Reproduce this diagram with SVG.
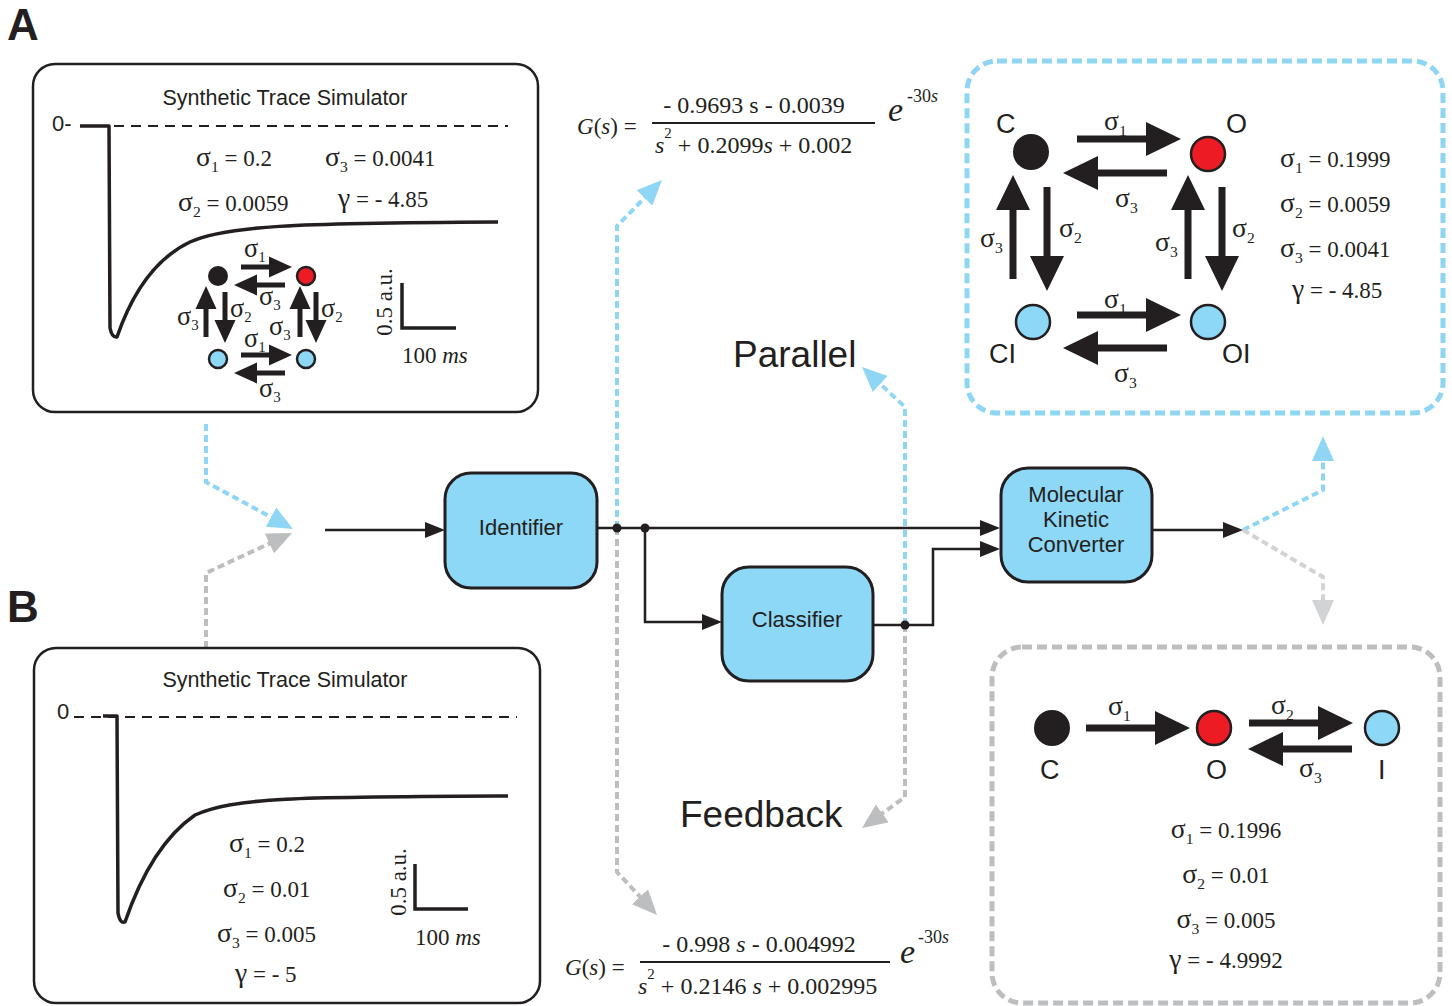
<svg xmlns="http://www.w3.org/2000/svg" width="1452" height="1006" viewBox="0 0 1452 1006">
<style>
.sans{font-family:"Liberation Sans",Arial,sans-serif;fill:#231f20}
.serif{font-family:"Liberation Serif","Times New Roman",serif;fill:#231f20}
.box{fill:#fff;stroke:#231f20;stroke-width:2.5}
.blk{fill:#8dd7f7;stroke:#231f20;stroke-width:3}
.flow{fill:none;stroke:#231f20;stroke-width:2.5}
.dB{fill:none;stroke:#8fd6f4;stroke-width:4;stroke-dasharray:7 4}
.dG{fill:none;stroke:#bcbec0;stroke-width:4;stroke-dasharray:7 4}
.dL{fill:none;stroke:#d1d3d4;stroke-width:4;stroke-dasharray:7 4}
.zero{fill:none;stroke:#231f20;stroke-width:2;stroke-dasharray:10 7}
.trace{fill:none;stroke:#231f20;stroke-width:3.5;stroke-linejoin:round}
.bar{fill:none;stroke:#231f20;stroke-width:3.5}
.ink{fill:#231f20}
.red{fill:#ed1c24;stroke:#231f20;stroke-width:2.5}
.cyan{fill:#8dd7f7;stroke:#231f20;stroke-width:2.5}
.it{font-style:italic}
.sg{font-size:120%}
.sb{font-size:68%}
</style>
<defs>
<marker id="mK" viewBox="0 0 20 16" refX="16" refY="8" markerWidth="20" markerHeight="16" markerUnits="userSpaceOnUse" orient="auto"><path d="M0,0 L20,8 L0,16 Z" fill="#231f20"/></marker>
<marker id="mB" viewBox="0 0 25 22" refX="19" refY="11" markerWidth="25" markerHeight="22" markerUnits="userSpaceOnUse" orient="auto"><path d="M0,0 L25,11 L0,22 Z" fill="#8fd6f4"/></marker>
<marker id="mG" viewBox="0 0 25 22" refX="19" refY="11" markerWidth="25" markerHeight="22" markerUnits="userSpaceOnUse" orient="auto"><path d="M0,0 L25,11 L0,22 Z" fill="#bcbec0"/></marker>
<marker id="mL" viewBox="0 0 25 22" refX="19" refY="11" markerWidth="25" markerHeight="22" markerUnits="userSpaceOnUse" orient="auto"><path d="M0,0 L25,11 L0,22 Z" fill="#d1d3d4"/></marker>
<path id="ka" d="M-104,-3.5 H-35 V-17 L0,0 L-35,17 V3.5 H-104 Z" fill="#231f20"/>
<path id="ks" d="M-51,-2.5 H-23 V-10.5 L0,0 L-23,10.5 V2.5 H-51 Z" fill="#231f20"/>
</defs>

<g id="panel-labels" class="sans" font-weight="bold" font-size="44">
<text x="7" y="40">A</text>
<text x="7" y="622">B</text>
</g>

<g id="connectors">
<path class="dB" d="M206,424 V482 L287.7,526.2" marker-end="url(#mB)"/>
<path class="dG" d="M206,648 V573 L286.6,535.5" marker-end="url(#mG)"/>
<path class="dB" d="M617,528 V226 L657.8,184.3" marker-end="url(#mB)"/>
<path class="dG" d="M617,528 V872 L652.9,910.6" marker-end="url(#mG)"/>
<path class="dB" d="M905,625 V407 L866.4,371.1" marker-end="url(#mB)"/>
<path class="dG" d="M905,625 V797 L866.9,824.5" marker-end="url(#mG)"/>
<path class="dB" d="M1243,530 L1323,490 V442" marker-end="url(#mB)"/>
<path class="dL" d="M1243,530 L1323,577 V619" marker-end="url(#mL)"/>
<path class="flow" d="M325,530 H441" marker-end="url(#mK)"/>
<path class="flow" d="M597,528 H996" marker-end="url(#mK)"/>
<path class="flow" d="M645,528 V622 H718" marker-end="url(#mK)"/>
<path class="flow" d="M873,625 H933 V549 H996" marker-end="url(#mK)"/>
<path class="flow" d="M1153,530 H1239" marker-end="url(#mK)"/>
<circle class="ink" cx="617" cy="528" r="4.5"/>
<circle class="ink" cx="645" cy="528" r="4.5"/>
<circle class="ink" cx="905" cy="625" r="4.5"/>
</g>

<g id="panelA">
<rect class="box" x="33" y="64" width="505" height="348" rx="22"/>
<text class="sans" x="285" y="105" font-size="21.5" text-anchor="middle">Synthetic Trace Simulator</text>
<text class="sans" x="52" y="131" font-size="22">0-</text>
<line class="zero" x1="80" y1="126" x2="508" y2="126"/>
<path class="trace" d="M80,126 L109,126 L110,328 Q112,338 117,337 C128,305 148,262 190,242 C225,226 290,223 498,222"/>
<g class="serif" font-size="23">
<text x="196" y="166"><tspan class="sg">σ</tspan><tspan class="sb" dy="6">1</tspan><tspan dy="-6"> = 0.2</tspan></text>
<text x="325" y="166"><tspan class="sg">σ</tspan><tspan class="sb" dy="6">3</tspan><tspan dy="-6"> = 0.0041</tspan></text>
<text x="178" y="211"><tspan class="sg">σ</tspan><tspan class="sb" dy="6">2</tspan><tspan dy="-6"> = 0.0059</tspan></text>
<text x="338" y="207"><tspan class="sg">γ</tspan> = - 4.85</text>
</g>
<g id="miniScheme">
<use href="#ks" transform="translate(292,267)"/>
<use href="#ks" transform="translate(234,285) rotate(180)"/>
<use href="#ks" transform="translate(206,286) rotate(-90)"/>
<use href="#ks" transform="translate(225,343) rotate(90)"/>
<use href="#ks" transform="translate(300,286) rotate(-90)"/>
<use href="#ks" transform="translate(316,343) rotate(90)"/>
<use href="#ks" transform="translate(292,355)"/>
<use href="#ks" transform="translate(234,373) rotate(180)"/>
<circle class="ink" cx="218" cy="276" r="10"/>
<circle class="red" cx="306" cy="276" r="9" stroke-width="2"/>
<circle class="cyan" cx="218" cy="359" r="9" stroke-width="2"/>
<circle class="cyan" cx="306" cy="359" r="9" stroke-width="2"/>
<g class="serif" font-size="22">
<text x="244" y="257"><tspan class="sg">σ</tspan><tspan class="sb" dy="5">1</tspan></text>
<text x="259" y="305"><tspan class="sg">σ</tspan><tspan class="sb" dy="5">3</tspan></text>
<text x="177" y="325"><tspan class="sg">σ</tspan><tspan class="sb" dy="5">3</tspan></text>
<text x="230" y="317"><tspan class="sg">σ</tspan><tspan class="sb" dy="5">2</tspan></text>
<text x="269" y="335"><tspan class="sg">σ</tspan><tspan class="sb" dy="5">3</tspan></text>
<text x="321" y="317"><tspan class="sg">σ</tspan><tspan class="sb" dy="5">2</tspan></text>
<text x="244" y="347"><tspan class="sg">σ</tspan><tspan class="sb" dy="5">1</tspan></text>
<text x="259" y="397"><tspan class="sg">σ</tspan><tspan class="sb" dy="5">3</tspan></text>
</g>
</g>
<path class="bar" d="M402,283 V328 H456"/>
<text class="serif" font-size="23" text-anchor="middle" transform="translate(392,302) rotate(-90)">0.5 a.u.</text>
<text class="serif" x="402" y="363" font-size="23">100 <tspan class="it">ms</tspan></text>
</g>

<g id="panelB">
<rect class="box" x="34" y="648" width="506" height="355" rx="22"/>
<text class="sans" x="285" y="687" font-size="21.5" text-anchor="middle">Synthetic Trace Simulator</text>
<text class="sans" x="57" y="719" font-size="22">0</text>
<line class="zero" x1="74" y1="717" x2="517" y2="717"/>
<path class="trace" d="M103,716 L117,716 L118,913 Q120,924 125,922 C136,890 156,842 195,815 C235,797 300,797 508,796"/>
<g class="serif" font-size="23">
<text x="229" y="852"><tspan class="sg">σ</tspan><tspan class="sb" dy="6">1</tspan><tspan dy="-6"> = 0.2</tspan></text>
<text x="223" y="897"><tspan class="sg">σ</tspan><tspan class="sb" dy="6">2</tspan><tspan dy="-6"> = 0.01</tspan></text>
<text x="217" y="942"><tspan class="sg">σ</tspan><tspan class="sb" dy="6">3</tspan><tspan dy="-6"> = 0.005</tspan></text>
<text x="235" y="982"><tspan class="sg">γ</tspan> = - 5</text>
</g>
<path class="bar" d="M415,864 V909 H468"/>
<text class="serif" font-size="23" text-anchor="middle" transform="translate(406,882) rotate(-90)">0.5 a.u.</text>
<text class="serif" x="415" y="945" font-size="23">100 <tspan class="it">ms</tspan></text>
</g>

<g id="identifier">
<rect class="blk" x="445" y="473" width="152" height="115" rx="26"/>
<text class="sans" x="521" y="535" font-size="22" text-anchor="middle">Identifier</text>
</g>
<g id="classifier">
<rect class="blk" x="722" y="567" width="151" height="114" rx="27"/>
<text class="sans" x="797" y="627" font-size="22" text-anchor="middle">Classifier</text>
</g>
<g id="mkc">
<rect class="blk" x="1001" y="468" width="151" height="114" rx="27"/>
<text class="sans" x="1076" y="502" font-size="22" text-anchor="middle">Molecular</text>
<text class="sans" x="1076" y="527" font-size="22" text-anchor="middle">Kinetic</text>
<text class="sans" x="1076" y="552" font-size="22" text-anchor="middle">Converter</text>
</g>

<g id="parallel"><text class="sans" x="733" y="367" font-size="37">Parallel</text></g>
<g id="feedback"><text class="sans" x="680" y="827" font-size="37">Feedback</text></g>

<g id="formulaTop" class="serif">
<text x="577" y="134" font-size="23"><tspan class="it">G</tspan>(<tspan class="it">s</tspan>) =</text>
<text x="754" y="113" font-size="24" text-anchor="middle">- 0.9693 s - 0.0039</text>
<line x1="652" y1="123" x2="875" y2="123" stroke="#231f20" stroke-width="2"/>
<text x="655" y="153" font-size="24"><tspan class="it">s</tspan><tspan font-size="15" dy="-15">2</tspan><tspan dy="15"> + 0.2099</tspan><tspan class="it">s</tspan> + 0.002</text>
<text x="888" y="121" font-size="34" class="it">e</text>
<text x="907" y="102" font-size="18">-30<tspan class="it">s</tspan></text>
</g>

<g id="formulaBottom" class="serif">
<text x="565" y="975" font-size="23"><tspan class="it">G</tspan>(<tspan class="it">s</tspan>) =</text>
<text x="759" y="952" font-size="24" text-anchor="middle">- 0.998 <tspan class="it">s</tspan> - 0.004992</text>
<line x1="640" y1="962" x2="890" y2="962" stroke="#231f20" stroke-width="2"/>
<text x="638" y="994" font-size="24"><tspan class="it">s</tspan><tspan font-size="15" dy="-15">2</tspan><tspan dy="15"> + 0.2146 </tspan><tspan class="it">s</tspan> + 0.002995</text>
<text x="900" y="963" font-size="34" class="it">e</text>
<text x="918" y="943" font-size="18">-30<tspan class="it">s</tspan></text>
</g>

<g id="modelTop">
<rect x="967" y="61" width="476" height="352" rx="30" fill="none" stroke="#8fd6f4" stroke-width="5" stroke-dasharray="10 5"/>
<use href="#ka" transform="translate(1181,139)"/>
<use href="#ka" transform="translate(1063,173) rotate(180)"/>
<use href="#ka" transform="translate(1013,175) rotate(-90)"/>
<use href="#ka" transform="translate(1047,291) rotate(90)"/>
<use href="#ka" transform="translate(1188,175) rotate(-90)"/>
<use href="#ka" transform="translate(1222,291) rotate(90)"/>
<use href="#ka" transform="translate(1181,315)"/>
<use href="#ka" transform="translate(1063,348) rotate(180)"/>
<circle class="ink" cx="1031" cy="152" r="18"/>
<circle class="red" cx="1208" cy="154" r="17"/>
<circle class="cyan" cx="1033" cy="322" r="17"/>
<circle class="cyan" cx="1208" cy="322" r="17"/>
<g class="sans" font-size="27">
<text x="996" y="133">C</text>
<text x="1226" y="133">O</text>
<text x="989" y="363">CI</text>
<text x="1222" y="363">OI</text>
</g>
<g class="serif" font-size="23">
<text x="1104" y="130"><tspan class="sg">σ</tspan><tspan class="sb" dy="6">1</tspan></text>
<text x="1115" y="207"><tspan class="sg">σ</tspan><tspan class="sb" dy="6">3</tspan></text>
<text x="980" y="247"><tspan class="sg">σ</tspan><tspan class="sb" dy="6">3</tspan></text>
<text x="1059" y="237"><tspan class="sg">σ</tspan><tspan class="sb" dy="6">2</tspan></text>
<text x="1155" y="251"><tspan class="sg">σ</tspan><tspan class="sb" dy="6">3</tspan></text>
<text x="1232" y="237"><tspan class="sg">σ</tspan><tspan class="sb" dy="6">2</tspan></text>
<text x="1104" y="308"><tspan class="sg">σ</tspan><tspan class="sb" dy="6">1</tspan></text>
<text x="1114" y="382"><tspan class="sg">σ</tspan><tspan class="sb" dy="6">3</tspan></text>
<text x="1280" y="167"><tspan class="sg">σ</tspan><tspan class="sb" dy="6">1</tspan><tspan dy="-6"> = 0.1999</tspan></text>
<text x="1280" y="212"><tspan class="sg">σ</tspan><tspan class="sb" dy="6">2</tspan><tspan dy="-6"> = 0.0059</tspan></text>
<text x="1280" y="257"><tspan class="sg">σ</tspan><tspan class="sb" dy="6">3</tspan><tspan dy="-6"> = 0.0041</tspan></text>
<text x="1292" y="298"><tspan class="sg">γ</tspan> = - 4.85</text>
</g>
</g>

<g id="modelBottom">
<rect x="992" y="647" width="448" height="356" rx="30" fill="none" stroke="#bcbec0" stroke-width="5" stroke-dasharray="10 5"/>
<use href="#ka" transform="translate(1190,728)"/>
<use href="#ka" transform="translate(1353,723)"/>
<use href="#ka" transform="translate(1248,749) rotate(180)"/>
<circle class="ink" cx="1052" cy="728" r="18"/>
<circle class="red" cx="1214" cy="728" r="17"/>
<circle class="cyan" cx="1382" cy="728" r="17"/>
<g class="sans" font-size="27">
<text x="1040" y="779">C</text>
<text x="1206" y="779">O</text>
<text x="1378" y="779">I</text>
</g>
<g class="serif" font-size="23">
<text x="1108" y="715"><tspan class="sg">σ</tspan><tspan class="sb" dy="6">1</tspan></text>
<text x="1271" y="714"><tspan class="sg">σ</tspan><tspan class="sb" dy="6">2</tspan></text>
<text x="1299" y="777"><tspan class="sg">σ</tspan><tspan class="sb" dy="6">3</tspan></text>
<text x="1226" y="838" text-anchor="middle"><tspan class="sg">σ</tspan><tspan class="sb" dy="6">1</tspan><tspan dy="-6"> = 0.1996</tspan></text>
<text x="1226" y="883" text-anchor="middle"><tspan class="sg">σ</tspan><tspan class="sb" dy="6">2</tspan><tspan dy="-6"> = 0.01</tspan></text>
<text x="1226" y="928" text-anchor="middle"><tspan class="sg">σ</tspan><tspan class="sb" dy="6">3</tspan><tspan dy="-6"> = 0.005</tspan></text>
<text x="1226" y="968" text-anchor="middle"><tspan class="sg">γ</tspan> = - 4.9992</text>
</g>
</g>
</svg>
